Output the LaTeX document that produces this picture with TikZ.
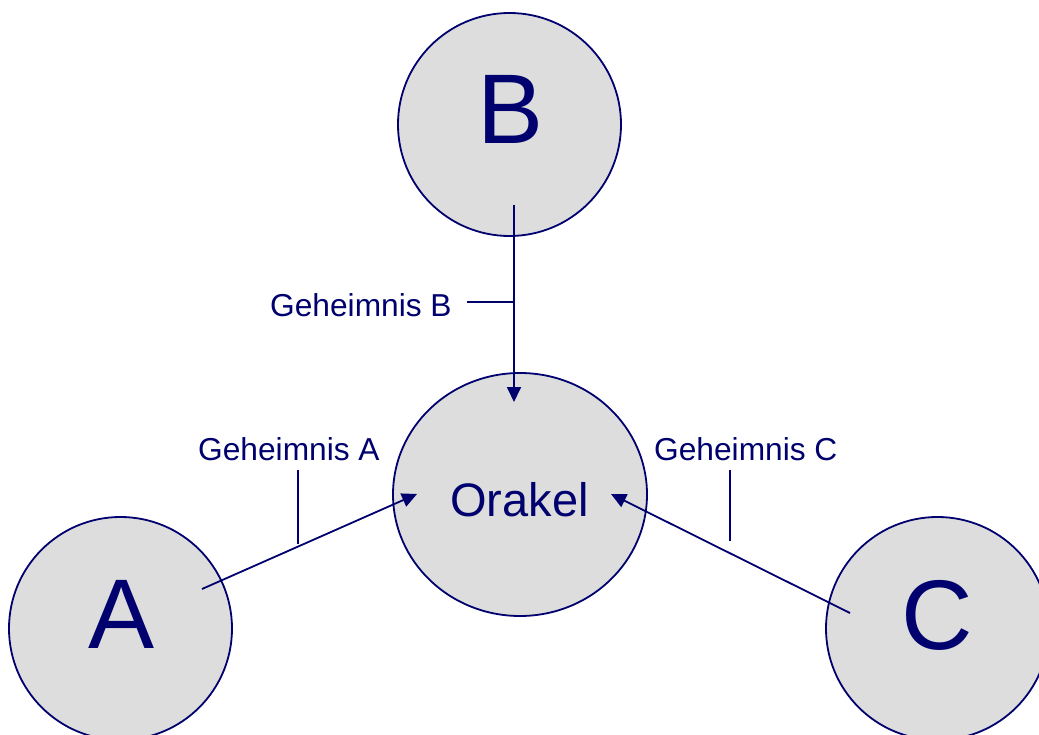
\documentclass[tikz,border=0pt]{standalone}
\usepackage{fontspec}
\setmainfont{Liberation Sans}
\usetikzlibrary{arrows.meta,shapes.geometric,calc}
\definecolor{navy}{RGB}{0,0,110}
\definecolor{ballfill}{RGB}{221,221,221}
\begin{document}
\begin{tikzpicture}[x=1pt,y=-1pt,
  ball/.style={circle,draw=navy,fill=ballfill,line width=1.8pt,minimum size=223pt,inner sep=0pt},
  orakelball/.style={ellipse,draw=navy,fill=ballfill,line width=1.8pt,minimum width=254pt,minimum height=243pt,inner sep=0pt},
  bigletter/.style={text=navy,font=\fontsize{99}{110}\selectfont,inner sep=0pt,anchor=base},
  secret/.style={text=navy,font=\fontsize{31.7}{38}\selectfont,inner sep=0pt,anchor=base west},
  flow/.style={draw=navy,line width=1.8pt,-{Triangle[length=15pt,width=14pt]}},
  tick/.style={draw=navy,line width=1.8pt}]
\useasboundingbox (0,0) rectangle (1039,735);
% circles
\node[ball] (B) at (509.5,124.5) {};
\node[orakelball] (O) at (520,494.5) {};
\node[ball] (A) at (120.5,628.5) {};
\node[ball] (C) at (937.5,628.5) {};
% letters
\node[bigletter] (Bt) at (511,144) {B};
\node[bigletter] (At) at (121.5,648) {A};
\node[bigletter] (Ct) at (937.5,649) {C};
\node[text=navy,font=\fontsize{47}{56}\selectfont,inner sep=0pt,anchor=base] (Ot) at (519.5,516) {Orakel};
% connector end points
\coordinate (Bs) at ($(B.center)+(4.5,80.5)$);
\coordinate (Be) at ($(O.center)+(-6,-92.5)$);
\coordinate (As) at ($(A.center)+(81.5,-39.5)$);
\coordinate (Ae) at ($(O.center)+(-103,-0.5)$);
\coordinate (Cs) at ($(C.center)+(-87.5,-15.5)$);
\coordinate (Ce) at ($(O.center)+(91,-0.5)$);
% arrows
\draw[flow] (Bs) -- (Be);
\draw[flow] (As) -- (Ae);
\draw[flow] (Cs) -- (Ce);
% ticks
\coordinate (Bk) at (514,302);
\coordinate (Bk2) at (467,302);
\draw[tick] (Bk) -- (Bk2);
\coordinate (Ak) at (298,544);
\coordinate (Ak2) at (298,470);
\draw[tick] (Ak) -- (Ak2);
\coordinate (Ck) at (730,541);
\coordinate (Ck2) at (730,470);
\draw[tick] (Ck) -- (Ck2);
% labels
\node[secret] (Bl) at (270,317) {Geheimnis B};
\node[secret] (Al) at (198,460) {Geheimnis A};
\node[secret] (Cl) at (654,460) {Geheimnis C};
\end{tikzpicture}
\end{document}
